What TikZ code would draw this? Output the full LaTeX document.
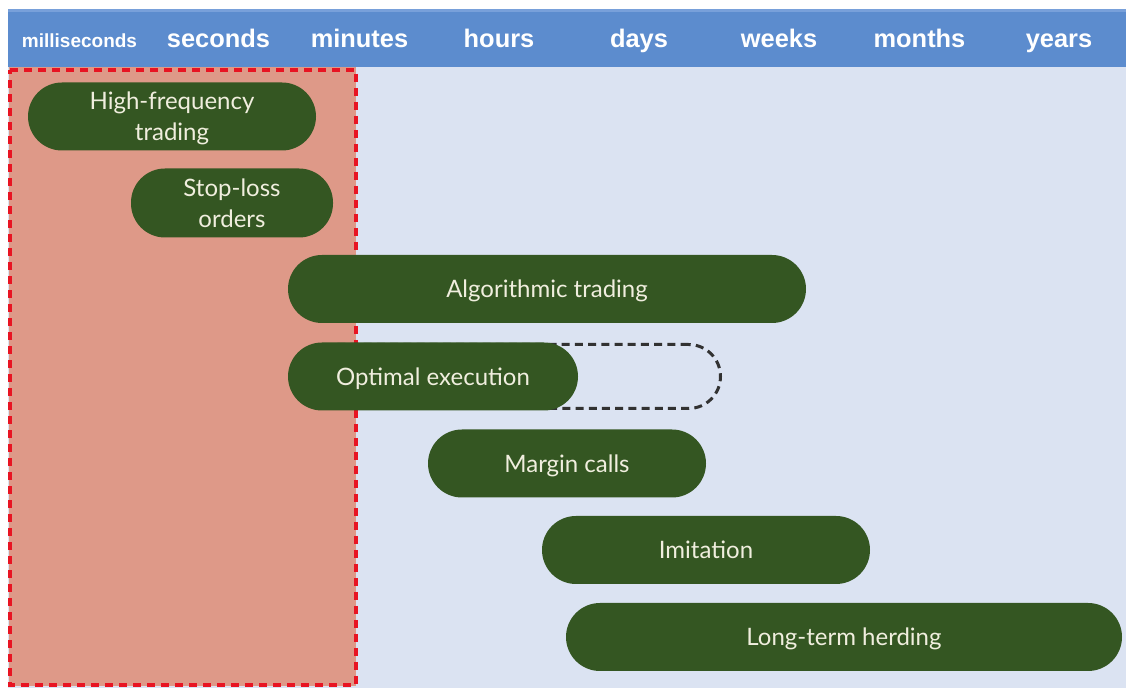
\documentclass[tikz,border=0pt]{standalone}
\usepackage{fontspec}
\setmainfont{Lato}
\newfontfamily\hdrfont{Liberation Sans}
\definecolor{hdrblue}{RGB}{92,140,206}
\definecolor{hdrtop}{RGB}{120,160,218}
\definecolor{bgblue}{RGB}{219,227,242}
\definecolor{salmon}{RGB}{222,153,136}
\definecolor{redline}{RGB}{232,20,34}
\definecolor{pillgreen}{RGB}{52,86,34}
\definecolor{pilltext}{RGB}{240,238,222}
\definecolor{dashgray}{RGB}{50,50,50}
\tikzset{
  pill/.style={rectangle, fill=pillgreen, rounded corners=17pt, minimum height=34pt,
    inner sep=0pt, text depth=0pt, text=pilltext, align=center, font=\fontsize{12}{15.5}\selectfont},
  hdr/.style={text=white, font=\hdrfont\bfseries\fontsize{12.7}{14}\selectfont, inner sep=0pt, anchor=base},
  hdrsmall/.style={text=white, font=\hdrfont\bfseries\fontsize{9.5}{11}\selectfont, inner sep=0pt, anchor=base},
  ghost/.style={rectangle, draw=dashgray, line width=1.5pt, dash pattern=on 4pt off 2.6pt,
    rounded corners=16pt, minimum height=32pt, inner sep=0pt}
}
\begin{document}
\begin{tikzpicture}[x=0.5pt,y=-0.5pt]
\useasboundingbox (0,0) rectangle (1126,688);
% backgrounds
\fill[bgblue] (8,66) rectangle (1126,688);
\fill[hdrblue] (8,9) rectangle (1126,67);
\fill[hdrtop] (8,9) rectangle (1126,12);
\fill[salmon] (9,67) rectangle (356,686);
\draw[redline, line width=2pt, dash pattern=on 4pt off 3pt] (10,70) -- (356,70) -- (356,685) -- (10,685) -- cycle;
% header labels
\node[hdrsmall] (h1) at (79.5,48) {milliseconds};
\node[hdr] (h2) at (218.5,48) {seconds};
\node[hdr] (h3) at (359.5,48) {minutes};
\node[hdr] (h4) at (499,48) {hours};
\node[hdr] (h5) at (639,48) {days};
\node[hdr] (h6) at (779,48) {weeks};
\node[hdr] (h7) at (919.5,48) {months};
\node[hdr] (h8) at (1059,48) {years};
% dashed extension of optimal execution
\node[ghost, minimum width=210pt] (oext) at (510.5,376.5) {};
% pills
\node[pill, minimum width=144pt, minimum height=34pt] (hft) at (172,116.5) {High-frequency\\trading};
\node[pill, minimum width=101pt, minimum height=34.5pt] (stop) at (232,203) {Stop-loss\\orders};
\node[pill, minimum width=259pt] (algo) at (547,289) {Algorithmic trading};
\node[pill, minimum width=145pt] (opt) at (433,376.5) {Optimal execution};
\node[pill, minimum width=139pt] (marg) at (567,463.5) {Margin calls};
\node[pill, minimum width=164pt] (imit) at (706,550) {Imitation};
\node[pill, minimum width=278pt] (herd) at (844,637) {Long-term herding};
\end{tikzpicture}
\end{document}
